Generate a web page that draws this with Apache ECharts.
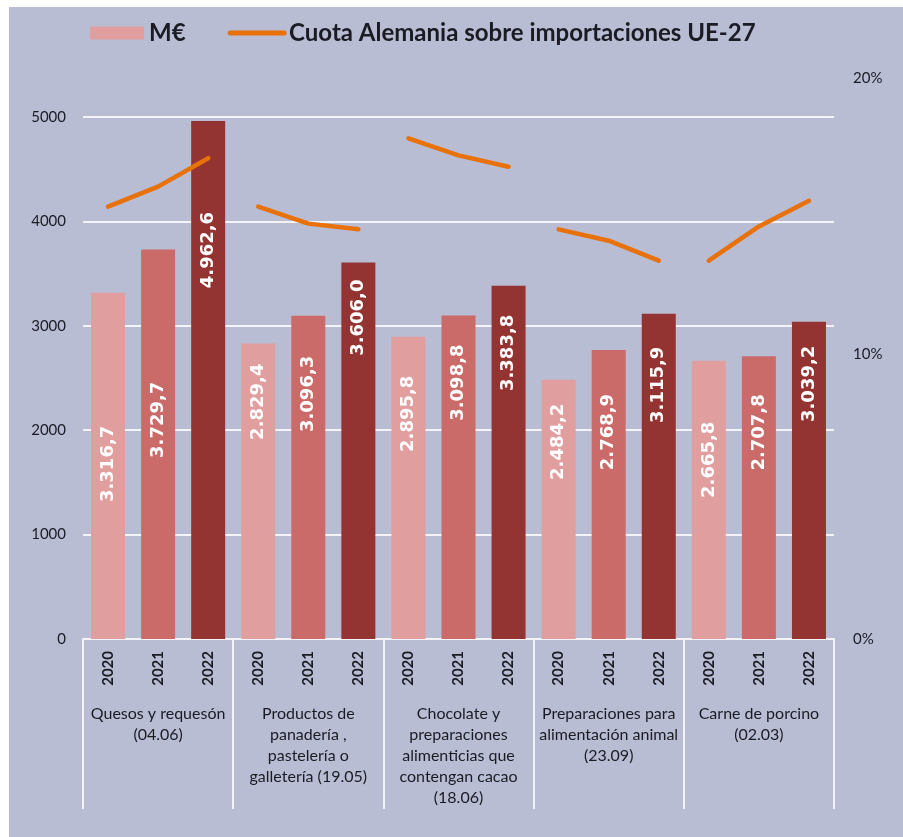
<!doctype html>
<html lang="es">
  <head>
    <meta charset="UTF-8" />
    <title>Importaciones Alemania UE-27</title>
    <script src="https://fastly.jsdelivr.net/npm/echarts@6/dist/echarts.min.js"></script>
    <style>
      * {
        margin: 0;
        padding: 0;
      }
      html,
      body {
        width: 100%;
        height: 100%;
        background: #ffffff;
        overflow: hidden;
      }
      #chart {
        position: absolute;
        left: 9px;
        top: 7px;
        width: 894px;
        height: 830px;
        background: #b8bdd3;
      }
    </style>
  </head>
  <body>
    <div id="chart"></div>
    <script>
      // data
      const years = ['2020', '2021', '2022'];
      const groups = [
        'Quesos y requesón\n(04.06)',
        'Productos de\npanadería ,\npastelería o\ngalletería (19.05)',
        'Chocolate y\npreparaciones\nalimenticias que\ncontengan cacao\n(18.06)',
        'Preparaciones para\nalimentación animal\n(23.09)',
        'Carne de porcino\n(02.03)'
      ];
      const valuesMEUR = [
        3316.7, 3729.7, 4962.6,
        2829.4, 3096.3, 3606.0,
        2895.8, 3098.8, 3383.8,
        2484.2, 2768.9, 3115.9,
        2665.8, 2707.8, 3039.2
      ];
      // cuota (%) per group, 2020-2022
      const shareQuesos = [15.2, 15.9, 16.9];
      const sharePanaderia = [15.2, 14.6, 14.4];
      const shareChocolate = [17.6, 17.0, 16.6];
      const sharePiensos = [14.4, 14.0, 13.3];
      const sharePorcino = [13.3, 14.5, 15.4];
      const shares = [shareQuesos, sharePanaderia, shareChocolate, sharePiensos, sharePorcino];

      // styling
      const yearColors = ['#e09e9e', '#cb6b69', '#943432'];
      const lineColor = '#e8710a';
      const labelDrop = [133, 132, 91, 20, 40, 17, 39, 29, 29, 24, 44, 33, 61, 38, 24];
      const textColor = '#1b1b24';
      const fontMain = 'Lato, "Open Sans", sans-serif';

      const categories = [];
      groups.forEach(() => years.forEach((y) => categories.push(y)));

      function fmtEs(v) {
        const parts = v.toFixed(1).split('.');
        const intPart = parts[0].replace(/\B(?=(\d{3})+(?!\d))/g, '.');
        return intPart + ',' + parts[1];
      }

      const barData = valuesMEUR.map((v, i) => ({
        value: v,
        itemStyle: { color: yearColors[i % 3] },
        label: { distance: labelDrop[i] }
      }));

      const lineName = 'Cuota Alemania sobre importaciones UE-27';
      const lineSeries = shares.map((g, gi) => {
        const data = categories.map(() => '-');
        g.forEach((v, k) => (data[gi * 3 + k] = v));
        return {
          name: lineName,
          type: 'line',
          yAxisIndex: 1,
          data: data,
          symbol: 'none',
          connectNulls: false,
          lineStyle: { color: lineColor, width: 4.5, cap: 'round', join: 'round' },
          itemStyle: { color: lineColor },
          z: 5
        };
      });

      const chart = echarts.init(document.getElementById('chart'));
      chart.setOption({
        animation: false,
        backgroundColor: '#b8bdd3',
        textStyle: { fontFamily: fontMain },
        legend: {
          left: 76,
          top: 9,
          itemWidth: 54,
          itemHeight: 13,
          itemGap: 42,
          textStyle: { fontSize: 24, fontWeight: 'bold', color: textColor, fontFamily: fontMain },
          data: [
            { name: 'M€', icon: 'rect', itemStyle: { color: yearColors[0] } },
            {
              name: lineName,
              itemStyle: { opacity: 0 },
              lineStyle: { color: lineColor, width: 5 }
            }
          ]
        },
        grid: { left: 74, right: 69, top: 63, bottom: 198 },
        xAxis: [
          {
            type: 'category',
            data: categories,
            axisLine: { show: true, lineStyle: { color: '#f4f4f8', width: 2 } },
            axisTick: { show: false },
            axisLabel: {
              interval: 0,
              rotate: 90,
              margin: 12,
              fontSize: 15,
              fontWeight: 'bold',
              color: textColor
            }
          },
          {
            type: 'category',
            data: groups,
            position: 'bottom',
            axisLine: { show: false },
            axisTick: {
              show: true,
              length: 170,
              lineStyle: { color: '#f4f4f8', width: 2 }
            },
            axisLabel: {
              interval: 0,
              margin: 64,
              fontSize: 16,
              lineHeight: 21,
              color: textColor
            }
          }
        ],
        yAxis: [
          {
            type: 'value',
            min: 0,
            max: 5450,
            interval: 1000,
            axisLine: { show: false },
            axisTick: { show: false },
            axisLabel: {
              margin: 17,
              fontSize: 15,
              color: textColor,
              showMaxLabel: false,
              formatter: (v) => String(v)
            },
            splitLine: {
              lineStyle: {
                color: ['#f4f4f8', '#f4f4f8', '#f4f4f8', '#f4f4f8', '#f4f4f8', '#f4f4f8', 'rgba(0,0,0,0)'],
                width: 2
              }
            }
          },
          {
            type: 'value',
            min: 0,
            max: 20,
            interval: 10,
            axisLine: { show: false },
            axisTick: { show: false },
            splitLine: { show: false },
            axisLabel: {
              margin: 19,
              fontSize: 15,
              color: textColor,
              formatter: (v) => (v === 20 ? '{low|' + v + '%}' : v + '%'),
              rich: { low: { fontSize: 15, color: textColor, padding: [16, 0, 0, 0] } }
            }
          }
        ],
        series: [
          {
            name: 'M€',
            type: 'bar',
            data: barData,
            barWidth: 34,
            label: {
              show: true,
              position: 'insideTop',
              rotate: 90,
              align: 'right',
              verticalAlign: 'middle',
              color: '#ffffff',
              fontSize: 18,
              fontWeight: 'bold',
              fontFamily: '"DejaVu Sans", sans-serif',
              formatter: (p) => fmtEs(p.value)
            }
          }
        ].concat(lineSeries)
      });
    </script>
  </body>
</html>
